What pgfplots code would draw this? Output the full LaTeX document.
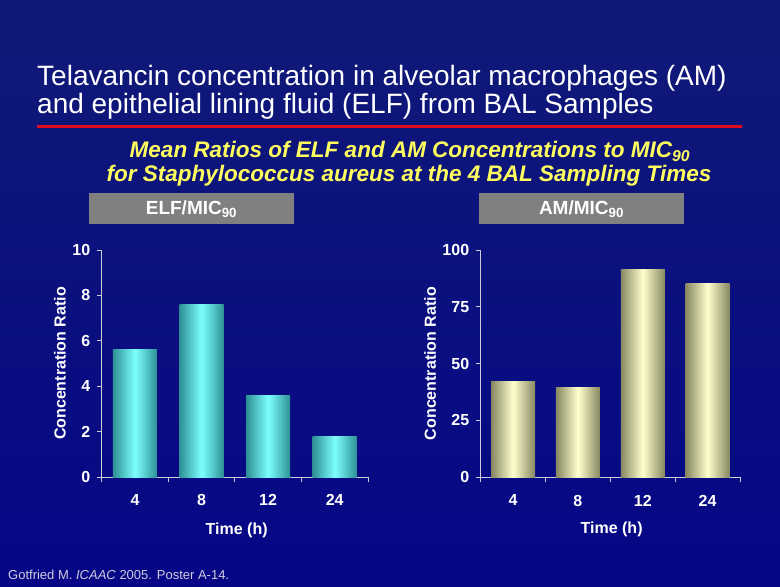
\documentclass[border=0pt]{standalone}
\usepackage{pgfplots}
\pgfplotsset{compat=1.18}
\usepackage{fontspec}
\setmainfont{Liberation Sans}
\definecolor{bgtop}{RGB}{16,26,118}
\definecolor{bgbot}{RGB}{6,6,135}
\definecolor{redline}{RGB}{225,10,30}
\definecolor{subyellow}{RGB}{255,255,96}
\definecolor{boxgray}{RGB}{128,128,128}
\definecolor{axcol}{RGB}{205,205,215}
\definecolor{cyanedge}{RGB}{45,145,150}
\definecolor{cyanmid}{RGB}{125,255,255}
\definecolor{khakiedge}{RGB}{135,135,98}
\definecolor{khakimid}{RGB}{255,255,205}
\definecolor{footcol}{RGB}{205,205,220}
\pgfplotsset{
  slide/.style={
    scale only axis,
    axis lines*=left,
    axis line style={axcol, line width=0.8pt},
    every tick/.style={axcol, line width=0.8pt},
    tick align=outside,
    major tick length=5pt,
    bar width=44pt,
    xmin=0.5, xmax=4.5,
    xtick={0.5,1.5,2.5,3.5,4.5},
    x tick label as interval,
    xticklabels={4,8,12,24},
    ymin=0,
    tick label style={font=\bfseries\fontsize{16}{16}\selectfont, text=white},
    xticklabel style={yshift=-9pt},
    yticklabel style={xshift=-3pt},
    /pgf/number format/assume math mode=true,
    label style={font=\bfseries\fontsize{16}{16}\selectfont, text=white},
    xlabel={Time (h)},
    ylabel={Concentration Ratio},
    clip=false,
  },
  cyanbar/.style={ybar, bar shift=0pt, draw=none, left color=cyanedge, right color=cyanedge, middle color=cyanmid},
  khakibar/.style={ybar, bar shift=0pt, draw=none, left color=khakiedge, right color=khakiedge, middle color=khakimid},
}
\begin{document}
\begin{tikzpicture}[x=1pt,y=1pt]
\path[use as bounding box] (0,0) rectangle (780,587);
\shade[top color=bgtop, bottom color=bgbot] (0,0) rectangle (780,587);
% title
\node[anchor=base west, text=white, font=\fontsize{28}{28}\selectfont, inner sep=0pt] at (37,501) {Telavancin concentration in alveolar macrophages (AM)};
\node[anchor=base west, text=white, font=\fontsize{28}{28}\selectfont, inner sep=0pt] at (37,473) {and epithelial lining fluid (ELF) from BAL Samples};
\draw[redline, line width=3pt] (37,460) -- (742,460);
% subtitle
\node[anchor=base, text=subyellow, font=\bfseries\itshape\fontsize{22.5}{22.5}\selectfont, inner sep=0pt] at (410,429) {Mean Ratios of ELF and AM Concentrations to MIC\textsubscript{90}};
\node[anchor=base, text=subyellow, font=\bfseries\itshape\fontsize{22.5}{22.5}\selectfont, inner sep=0pt] at (409,405) {for Staphylococcus aureus at the 4 BAL Sampling Times};
% boxes
\fill[boxgray] (89,363) rectangle (294,394);
\fill[boxgray] (479,363) rectangle (684,394);
\node[text=white, font=\bfseries\fontsize{19}{19}\selectfont] at (191.5,378) {ELF/MIC\textsubscript{90}};
\node[text=white, font=\bfseries\fontsize{19}{19}\selectfont] at (581.5,378) {AM/MIC\textsubscript{90}};
% footnote
\node[anchor=base west, text=footcol, font=\fontsize{13}{13}\selectfont, inner sep=0pt] at (8,8) {Gotfried M. \textit{ICAAC} 2005. Poster A-14.};
% left axis
\begin{axis}[slide,
  at={(101.7pt,110pt)}, anchor=south west,
  width=266.3pt, height=227pt,
  ymax=10, ytick={0,2,4,6,8,10},
  ylabel style={at={(axis description cs:-0.157,0.5)}, anchor=center},
  xlabel style={at={(axis description cs:0.507,-0.233)}, anchor=center},
]
\addplot[cyanbar] coordinates {(1,5.6)};
\addplot[cyanbar] coordinates {(2,7.6)};
\addplot[cyanbar] coordinates {(3,3.6)};
\addplot[cyanbar] coordinates {(4,1.8)};
\end{axis}
% right axis
\begin{axis}[slide,
  at={(480.7pt,109.7pt)}, anchor=south west,
  width=259.3pt, height=227.3pt,
  ymax=100, ytick={0,25,50,75,100},
  ylabel style={at={(axis description cs:-0.195,0.5)}, anchor=center},
  xlabel style={at={(axis description cs:0.505,-0.23)}, anchor=center},
]
\addplot[khakibar] coordinates {(1,42.3)};
\addplot[khakibar] coordinates {(2,39.6)};
\addplot[khakibar] coordinates {(3,91.5)};
\addplot[khakibar] coordinates {(4,85.2)};
\end{axis}
\end{tikzpicture}
\end{document}
